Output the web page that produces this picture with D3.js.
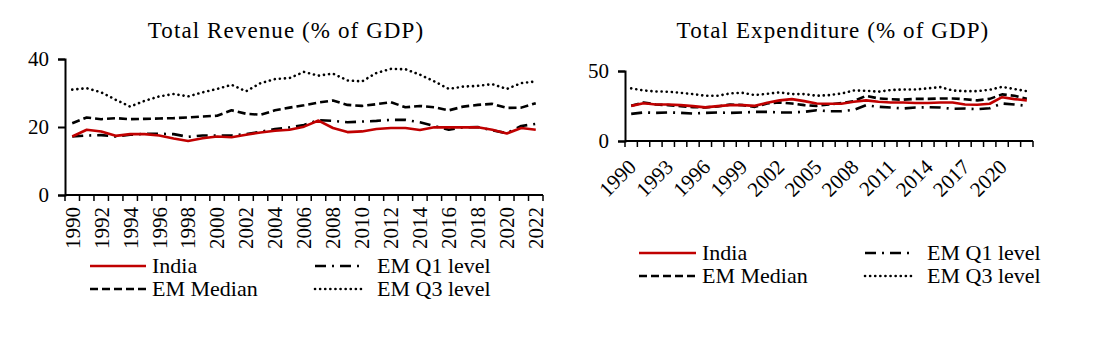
<!DOCTYPE html>
<html>
<head>
<meta charset="utf-8">
<script src="https://cdn.jsdelivr.net/npm/d3@7"></script>
<style>
  body { margin: 0; background: #fff; }
</style>
</head>
<body>
<svg id="chart" width="1098" height="350"></svg>
<script>
// categories
var years = d3.range(1990, 2023);

// Total revenue (% of GDP)
var revIndia  = [17.2,19.2,18.7,17.4,17.9,17.9,17.5,16.6,15.9,16.7,17.2,17.0,17.7,18.4,18.9,19.2,20.1,21.9,19.7,18.5,18.7,19.4,19.7,19.7,19.1,19.9,19.9,19.9,19.9,19.2,18.1,19.7,19.2];
var revQ1     = [17.2,17.5,17.6,17.2,17.7,18.0,18.0,17.9,17.1,17.5,17.5,17.5,17.9,18.6,19.4,19.9,20.6,22.0,21.8,21.4,21.6,21.8,22.1,22.1,21.4,20.3,19.2,19.9,20.0,19.0,18.2,20.3,20.9];
var revMedian = [21.1,22.8,22.3,22.6,22.3,22.4,22.5,22.6,22.8,23.1,23.3,24.9,23.9,23.6,24.9,25.7,26.4,27.2,27.8,26.5,26.2,26.7,27.3,25.8,26.2,25.8,24.9,26.0,26.5,26.8,25.6,25.7,27.0];
var revQ3     = [31.0,31.4,30.2,28.0,26.0,27.7,29.0,29.7,29.0,30.2,31.2,32.4,30.5,32.9,34.1,34.4,36.2,35.1,35.7,33.7,33.4,35.9,37.1,37.0,35.4,33.4,31.2,31.9,32.1,32.6,31.2,32.9,33.4];

// Total expenditure (% of GDP)
var expIndia  = [25.1,27.0,26.1,26.1,25.6,24.9,24.0,24.9,25.6,25.6,25.1,27.3,29.0,29.9,28.5,26.8,26.6,26.6,28.0,29.0,28.0,27.5,27.5,27.1,27.1,27.5,27.5,26.1,25.9,26.6,31.3,29.9,29.0];
var expQ1     = [19.4,20.4,20.1,20.4,20.1,19.6,20.1,20.4,20.1,20.4,20.8,20.8,20.4,20.4,20.8,22.0,21.3,21.3,22.2,25.6,24.4,23.9,23.2,23.9,24.1,23.9,23.0,23.2,22.7,23.4,26.8,26.1,25.1];
var expMedian = [25.1,27.5,26.1,25.6,24.9,24.2,24.0,24.6,26.1,25.6,24.4,26.8,27.5,26.8,25.6,25.1,26.1,27.1,28.5,32.3,30.4,29.8,29.5,30.1,30.1,30.4,30.4,29.8,29.0,30.1,33.3,32.3,30.1];
var expQ3     = [37.6,36.1,35.4,35.2,34.4,33.5,32.3,32.3,34.0,34.4,32.8,33.7,34.7,33.5,33.5,32.3,32.8,33.9,36.1,35.9,35.2,36.4,36.8,36.8,37.6,38.5,36.1,35.6,35.6,36.6,38.7,37.1,35.6];

var seriesNames = ["India", "EM Q1 level", "EM Median", "EM Q3 level"];

var FONT = "'Liberation Serif', 'DejaVu Serif', 'Times New Roman', serif";

var styles = {
    "India":       { color: "#c00000", dash: null, cap: "butt", width: 2.6 },
    "EM Q1 level": { color: "#000", dash: "11,6,2,6", cap: "butt", width: 2.6 },
    "EM Median":   { color: "#000", dash: "8,4", cap: "butt", width: 2.6 },
    "EM Q3 level": { color: "#000", dash: "0.1,5", cap: "round", width: 2.6 }
};

var svg = d3.select("#chart");

function drawPanel(cfg) {
    var g = svg.append("g");

    var x = d3.scaleBand().domain(years).range([cfg.x0, cfg.x1]).padding(0);
    var y = d3.scaleLinear().domain([0, cfg.yMax]).range([cfg.y0, cfg.yTop]);

    // title
    g.append("text")
        .attr("x", cfg.titleX)
        .attr("y", 38)
        .attr("text-anchor", "middle")
        .style("font-family", FONT)
        .style("font-size", "23px")
        .style("letter-spacing", "1.1px")
        .text(cfg.title);

    // y axis
    var yAxis = d3.axisLeft(y).tickValues(cfg.yTicks).tickSize(7).tickPadding(9);
    var ya = g.append("g")
        .attr("transform", "translate(" + cfg.x0 + ",0)")
        .call(yAxis);
    ya.select(".domain").attr("stroke-width", 2);
    ya.selectAll(".tick line").attr("stroke-width", 2);
    ya.selectAll(".tick text")
        .style("font-family", FONT)
        .style("font-size", "21px");

    // x axis: ticks sit on the category boundaries
    var edges = years.map(function(d) { return x(d); }).concat([cfg.x1]);
    g.append("line")
        .attr("x1", cfg.x0).attr("x2", cfg.x1)
        .attr("y1", cfg.y0).attr("y2", cfg.y0)
        .attr("stroke", "#000").attr("stroke-width", 2);
    g.selectAll(".xtick")
        .data(edges)
        .enter()
        .append("line")
        .attr("x1", function(d) { return d; })
        .attr("x2", function(d) { return d; })
        .attr("y1", cfg.y0)
        .attr("y2", cfg.y0 + 6)
        .attr("stroke", "#000")
        .attr("stroke-width", 1.5);

    var labelYears = years.filter(function(d, i) { return i % cfg.labelStep === 0; });
    g.selectAll(".xlabel")
        .data(labelYears)
        .enter()
        .append("text")
        .attr("transform", function(d) {
            var cx = x(d) + x.bandwidth() / 2;
            return "translate(" + (cx + cfg.labelDx) + "," + (cfg.y0 + cfg.labelDy) + ") rotate(" + cfg.labelRot + ")";
        })
        .attr("text-anchor", "end")
        .attr("dy", "0.35em")
        .style("font-family", FONT)
        .style("font-size", "21px")
        .text(function(d) { return d; });

    // lines
    var line = d3.line()
        .x(function(d, i) { return x(years[i]) + x.bandwidth() / 2; })
        .y(function(d) { return y(d); });

    var order = ["EM Q3 level", "EM Median", "EM Q1 level", "India"];
    order.forEach(function(name) {
        var st = styles[name];
        g.append("path")
            .datum(cfg.data[name])
            .attr("fill", "none")
            .attr("stroke", st.color)
            .attr("stroke-width", st.width)
            .attr("stroke-linecap", st.cap)
            .attr("stroke-linejoin", "round")
            .attr("stroke-dasharray", st.dash)
            .attr("d", line);
    });

    // legend, two columns
    var leg = g.append("g");
    seriesNames.forEach(function(name, i) {
        var st = styles[name];
        var col = i % 2 === 0 ? 0 : 1;
        var row = name === "India" || name === "EM Q1 level" ? 0 : 1;
        var lx = cfg.legX[col];
        var ly = cfg.legY + row * 23;
        leg.append("line")
            .attr("x1", lx).attr("x2", lx + cfg.legLen[col])
            .attr("y1", ly).attr("y2", ly)
            .attr("stroke", st.color)
            .attr("stroke-width", st.width)
            .attr("stroke-linecap", st.cap)
            .attr("stroke-dasharray", st.dash);
        leg.append("text")
            .attr("x", lx + cfg.legLen[col] + cfg.legGap[col])
            .attr("y", ly)
            .attr("dy", "0.33em")
            .style("font-family", FONT)
            .style("font-size", "22px")
            .text(name);
    });
}

drawPanel({
    title: "Total Revenue (% of GDP)",
    titleX: 286,
    x0: 65, x1: 543,
    y0: 195, yTop: 59, yMax: 40,
    yTicks: [0, 20, 40],
    labelStep: 2, labelRot: -90, labelDx: 0, labelDy: 12,
    legX: [90, 315], legLen: [56, 47], legGap: [6, 15], legY: 266,
    data: { "India": revIndia, "EM Q1 level": revQ1, "EM Median": revMedian, "EM Q3 level": revQ3 }
});

drawPanel({
    title: "Total Expenditure (% of GDP)",
    titleX: 833,
    x0: 625, x1: 1033,
    y0: 141, yTop: 71, yMax: 50,
    yTicks: [0, 50],
    labelStep: 3, labelRot: -45, labelDx: 1, labelDy: 22,
    legX: [639, 865], legLen: [57, 47], legGap: [6, 15], legY: 253,
    data: { "India": expIndia, "EM Q1 level": expQ1, "EM Median": expMedian, "EM Q3 level": expQ3 }
});
</script>
</body>
</html>
